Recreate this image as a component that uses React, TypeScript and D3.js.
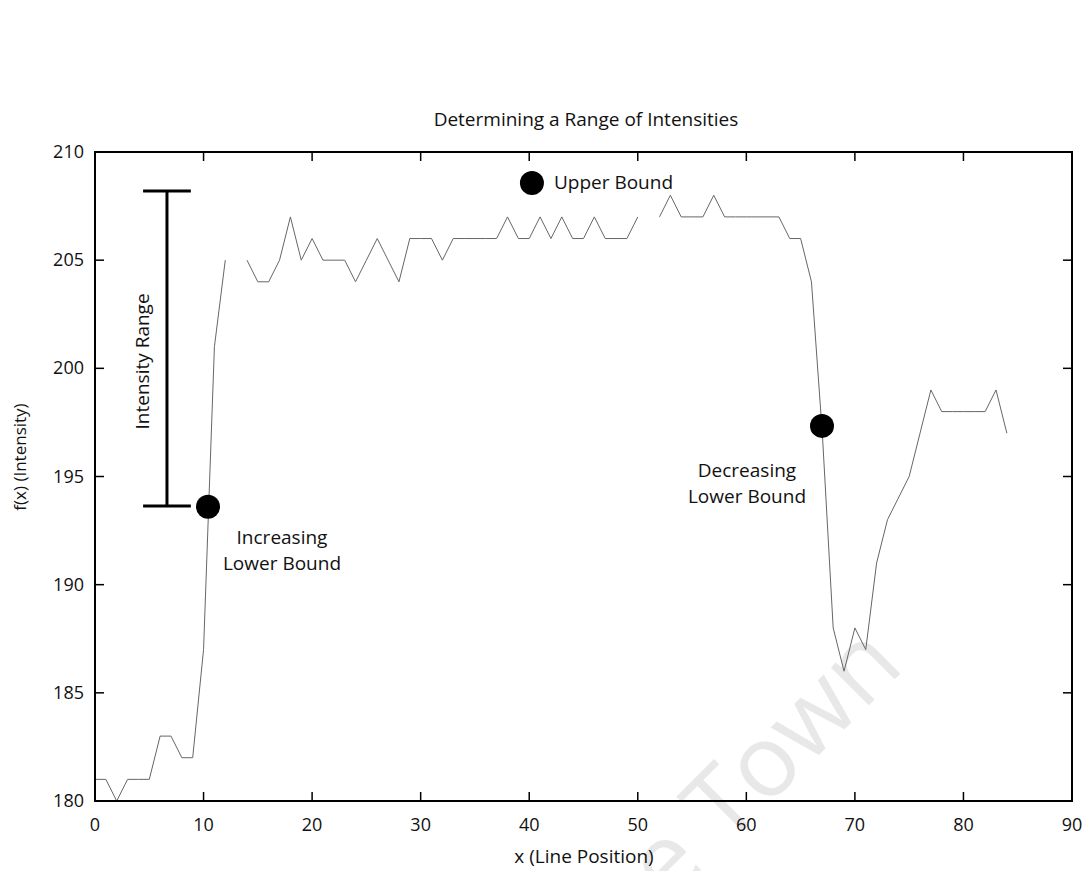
import React from "react";
import * as d3 from "d3";

const positions: number[] = d3.range(0, 85);
const intensities: (number | null)[] = [
  181, 181, 180, 181, 181, 181, 183, 183, 182, 182,
  187, 201, 205, null, 205, 204, 204, 205, 207, 205,
  206, 205, 205, 205, 204, 205, 206, 205, 204, 206,
  206, 206, 205, 206, 206, 206, 206, 206, 207, 206,
  206, 207, 206, 207, 206, 206, 207, 206, 206, 206,
  207, null, 207, 208, 207, 207, 207, 208, 207, 207,
  207, 207, 207, 207, 206, 206, 204, 197, 188, 186,
  188, 187, 191, 193, 194, 195, 197, 199, 198, 198,
  198, 198, 198, 199, 197,
];
const xTicks = [0, 10, 20, 30, 40, 50, 60, 70, 80, 90];
const yTicks = [180, 185, 190, 195, 200, 205, 210];

const markerX = [10.41, 40.25, 66.97];
const markerY = [193.6, 208.57, 197.34];
const rangeX = 6.63;
const rangeLow = 193.64;
const rangeHigh = 208.2;
const rangeCapHalf = 2.2;

const W = 1089;
const H = 871;
const left = 95, right = 1072, top = 152, bottom = 801;
const FONT = "'Open Sans', 'DejaVu Sans', sans-serif";

export default function App() {
  const x = d3.scaleLinear().domain([0, 90]).range([left, right]);
  const y = d3.scaleLinear().domain([180, 210]).range([bottom, top]);
  const data = positions.map((p, i) => ({ p, v: intensities[i] }));
  const line = d3
    .line<{ p: number; v: number | null }>()
    .defined((d) => d.v !== null)
    .x((d) => x(d.p))
    .y((d) => y(d.v as number));
  const tick = 9;

  return (
    <svg
      width={W}
      height={H}
      style={{ position: "absolute", left: 0, top: 0, background: "#fff" }}
      fontFamily={FONT}
    >
      <rect x={0} y={0} width={W} height={H} fill="#fff" />
      {/* watermark */}
      <text
        x={0}
        y={0}
        transform="translate(906,668) rotate(-45)"
        textAnchor="end"
        fontSize={100}
        fill="#e8e8e8"
      >
        University of Cape Town
      </text>
      {/* title */}
      <text x={586} y={126} textAnchor="middle" fontSize={19} fill="#111">
        Determining a Range of Intensities
      </text>
      {/* data line */}
      <path d={line(data) || ""} fill="none" stroke="#666" strokeWidth={1} />
      {/* frame */}
      <rect
        x={left}
        y={top}
        width={right - left}
        height={bottom - top}
        fill="none"
        stroke="#000"
        strokeWidth={2}
      />
      {xTicks.map((t) => (
        <g key={"x" + t}>
          <line x1={x(t)} x2={x(t)} y1={bottom} y2={bottom - tick} stroke="#000" strokeWidth={1.5} />
          <line x1={x(t)} x2={x(t)} y1={top} y2={top + tick} stroke="#000" strokeWidth={1.5} />
          <text x={x(t)} y={bottom + 30} textAnchor="middle" fontSize={18} fill="#111">
            {t}
          </text>
        </g>
      ))}
      {yTicks.map((t) => (
        <g key={"y" + t}>
          <line x1={left} x2={left + tick} y1={y(t)} y2={y(t)} stroke="#000" strokeWidth={1.5} />
          <line x1={right} x2={right - tick} y1={y(t)} y2={y(t)} stroke="#000" strokeWidth={1.5} />
          <text x={84} y={y(t) + 6} textAnchor="end" fontSize={18} fill="#111">
            {t}
          </text>
        </g>
      ))}
      {/* axis labels */}
      <text x={584} y={863} textAnchor="middle" fontSize={19} fill="#111">
        x (Line Position)
      </text>
      <text
        transform={`translate(26,457) rotate(-90)`}
        textAnchor="middle"
        fontSize={17}
        fill="#111"
      >
        f(x) (Intensity)
      </text>
      {/* intensity range bar */}
      <g stroke="#000" strokeWidth={3}>
        <line x1={x(rangeX)} x2={x(rangeX)} y1={y(rangeHigh)} y2={y(rangeLow)} />
        <line
          x1={x(rangeX - rangeCapHalf)}
          x2={x(rangeX + rangeCapHalf)}
          y1={y(rangeHigh)}
          y2={y(rangeHigh)}
        />
        <line
          x1={x(rangeX - rangeCapHalf)}
          x2={x(rangeX + rangeCapHalf)}
          y1={y(rangeLow)}
          y2={y(rangeLow)}
        />
      </g>
      <text
        transform={`translate(${x(rangeX) - 18},${(y(rangeHigh) + y(rangeLow)) / 2 + 13}) rotate(-90)`}
        textAnchor="middle"
        fontSize={19}
        fill="#111"
      >
        Intensity Range
      </text>
      {/* markers */}
      {markerX.map((mx, i) => (
        <circle key={"m" + i} cx={x(mx)} cy={y(markerY[i])} r={12} fill="#000" />
      ))}
      <text x={x(markerX[1]) + 22} y={y(markerY[1]) + 6} fontSize={19} fill="#111">
        Upper Bound
      </text>
      <text x={x(markerX[0]) + 74} y={y(markerY[0]) + 37} textAnchor="middle" fontSize={19} fill="#111">
        Increasing
      </text>
      <text x={x(markerX[0]) + 74} y={y(markerY[0]) + 63} textAnchor="middle" fontSize={19} fill="#111">
        Lower Bound
      </text>
      <text x={x(markerX[2]) - 75} y={y(markerY[2]) + 51} textAnchor="middle" fontSize={19} fill="#111">
        Decreasing
      </text>
      <text x={x(markerX[2]) - 75} y={y(markerY[2]) + 77} textAnchor="middle" fontSize={19} fill="#111">
        Lower Bound
      </text>
    </svg>
  );
}
